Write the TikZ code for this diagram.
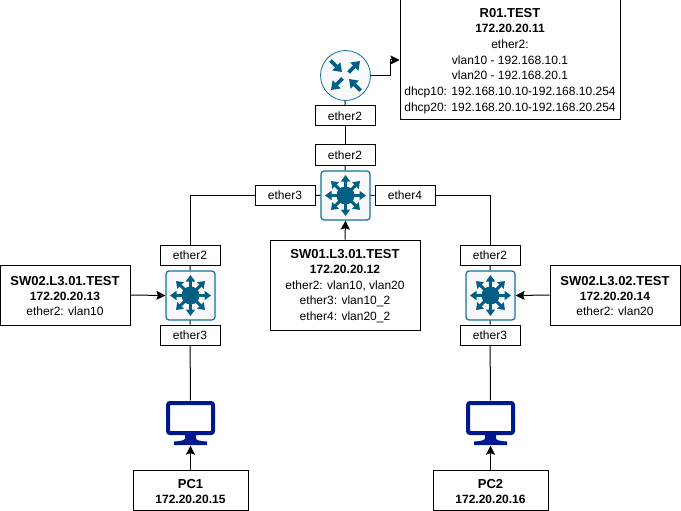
\documentclass[tikz,border=0pt]{standalone}
\usepackage{fontspec}
\setmainfont{Liberation Sans}
\usetikzlibrary{arrows.meta,calc}
\definecolor{icon}{HTML}{005F82}
\definecolor{iconedge}{HTML}{10739E}
\definecolor{iconfill}{HTML}{F7F9FA}
\definecolor{pcblue}{HTML}{00188D}
\newcommand{\hd}[1]{{\fontsize{13}{15.7}\selectfont\bfseries\rule{0pt}{11.5pt}#1}\\[-1pt]}
\tikzset{
 box/.style={draw=black,fill=white,line width=1pt,rectangle,inner sep=0pt,align=center,font=\fontsize{12}{15.7}\selectfont},
 port/.style={box,minimum width=60pt,minimum height=20pt},
 swicon/.style={draw=iconedge,fill=iconfill,line width=1.2pt,rounded corners=3pt,minimum width=49pt,minimum height=49pt,inner sep=0pt},
 rticon/.style={draw=iconedge,fill=iconfill,line width=.8pt,circle,minimum size=50pt,inner sep=0pt},
 pcicon/.style={minimum width=50pt,minimum height=45pt,inner sep=0pt},
 wire/.style={line width=1pt,draw=black},
 arr/.style={wire,-{Stealth[length=9pt,width=9pt,inset=1.5pt]}},
 ray/.style={line width=3pt,draw=icon,-{Triangle[length=6.5pt,width=9pt]}},
 rtray/.style={line width=3.6pt,draw=icon,-{Triangle[length=8pt,width=11pt]}}
}
\newcommand{\swglyph}[1]{%
 \fill[icon] (#1) circle (9pt);
 \foreach \a in {0,45,...,315}{\draw[ray] ($(#1)+(\a:7pt)$) -- ($(#1)+(\a:20.5pt)$);}
}
\begin{document}
\begin{tikzpicture}[x=1pt,y=-1pt]
\useasboundingbox (0,0) rectangle (681,511);
% boxes
\node[box,minimum width=220pt,minimum height=120pt] (r01) at (510,60) {\hd{R01.TEST}\textbf{172.20.20.11}\\ether2:\\vlan10 - 192.168.10.1\\vlan20 - 192.168.20.1\\dhcp10: 192.168.10.10-192.168.10.254\\dhcp20: 192.168.20.10-192.168.20.254};
\node[rticon] (router) at (345.5,75.5) {};
\node[port] (rp) at (345,116) {ether2};
\node[port] (sp) at (345,155) {ether2};
\node[swicon] (sw1) at (345.5,195.5) {};
\node[port] (sp3) at (285,195) {ether3};
\node[port] (sp4) at (405,195) {ether4};
\node[box,minimum width=150pt,minimum height=90pt] (sw1t) at (345,285) {\hd{SW01.L3.01.TEST}\textbf{172.20.20.12}\\ether2: vlan10, vlan20\\ether3: vlan10\_2\\ether4: vlan20\_2};
% left
\node[port] (lt) at (190,255) {ether2};
\node[swicon] (sw2) at (190.5,295.5) {};
\node[port] (lb) at (190,335) {ether3};
\node[box,minimum width=130pt,minimum height=60pt] (sw2t) at (65,295) {\hd{SW02.L3.01.TEST}\textbf{172.20.20.13}\\ether2: vlan10};
\node[pcicon] (pc1) at (190.5,423) {};
\node[box,minimum width=115pt,minimum height=40pt] (pc1t) at (190.5,490) {\hd{PC1}\textbf{172.20.20.15}};
% right
\node[port] (rt) at (490,255) {ether2};
\node[swicon] (sw3) at (490.5,295.5) {};
\node[port] (rb) at (490,335) {ether3};
\node[box,minimum width=130pt,minimum height=60pt] (sw3t) at (615,295) {\hd{SW02.L3.02.TEST}\textbf{172.20.20.14}\\ether2: vlan20};
\node[pcicon] (pc2) at (490.5,423) {};
\node[box,minimum width=115pt,minimum height=40pt] (pc2t) at (490.5,490) {\hd{PC2}\textbf{172.20.20.16}};
% connectors
\draw[wire] (router) -- (rp);
\draw[wire] (rp) -- (sp);
\draw[wire] (sp) -- (sw1);
\draw[wire] (sw1) -- (sp3);
\draw[wire] (sw1) -- (sp4);
\draw[wire] (sp3.west) -| (lt.north);
\draw[wire] (sp4.east) -| (rt.north);
\draw[wire] (lt) -- (sw2);
\draw[wire] (rt) -- (sw3);
\draw[wire] (sw2) -- (lb);
\draw[wire] (sw3) -- (rb);
\draw[wire] (lb) -- (pc1.north);
\draw[wire] (rb) -- (pc2.north);
\draw[arr] (router.east) -- ++(20,0) |- (r01.west |- 0,60);
\draw[arr] (sw1t.north) -- (sw1.south);
\draw[arr] (sw2t.east) -- (sw2.west);
\draw[arr] (sw3t.west) -- (sw3.east);
\draw[arr] (pc1t.north) -- (pc1.south);
\draw[arr] (pc2t.north) -- (pc2.south);
% glyphs
\swglyph{sw1}\swglyph{sw2}\swglyph{sw3}
% router arrows
\begin{scope}[shift={(router.center)}]
\draw[rtray] (3,-3) -- (14.5,-14.5);
\draw[rtray] (-3,3) -- (-14.5,14.5);
\draw[rtray] (-15,-15) -- (-3.5,-3.5);
\draw[rtray] (15,15) -- (3.5,3.5);
\end{scope}
% PC glyphs
\foreach \p in {pc1,pc2}{
\begin{scope}[shift={(\p.center)}]
\draw[pcblue,line width=4pt,rounded corners=2pt] (-22.5,-20) rectangle (22.5,10);
\fill[pcblue] (-5.5,12) -- (5.5,12) -- (5.5,15) .. controls (5.5,17) and (8,18) .. (16.5,18.5) -- (16.5,22) -- (-16.5,22) -- (-16.5,18.5) .. controls (-8,18) and (-5.5,17) .. (-5.5,15) -- cycle;
\end{scope}}
\end{tikzpicture}
\end{document}
